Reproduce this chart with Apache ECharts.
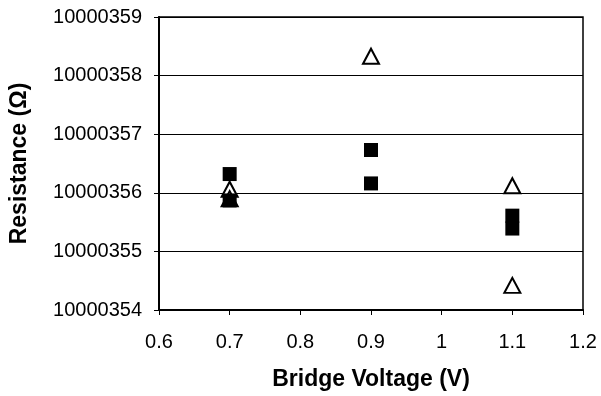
<!DOCTYPE html>
<html>
<head>
<meta charset="utf-8">
<script src="https://cdn.jsdelivr.net/npm/echarts@6/dist/echarts.min.js"></script>
<style>
  html, body { margin: 0; padding: 0; background: #fff; }
  #chart { width: 601px; height: 396px; }
</style>
</head>
<body>
<div id="chart"></div>
<script>
// filled squares
const squareX = [0.7, 0.7, 0.9, 0.9, 1.1, 1.1];
const squareY = [10000356.32, 10000355.87, 10000356.73, 10000356.16, 10000355.61, 10000355.39];
// open triangles
const triangleX = [0.7, 0.7, 0.9, 1.1, 1.1];
const triangleY = [10000356.06, 10000355.9, 10000358.33, 10000356.12, 10000354.42];

const chart = echarts.init(document.getElementById('chart'));

const font = 'Liberation Sans, Arial, sans-serif';

const option = {
  backgroundColor: '#fff',
  animation: false,
  grid: {
    left: 156, right: 18, top: 17, bottom: 85,
    show: true, borderColor: '#000', borderWidth: 1.5, backgroundColor: '#fff'
  },
  xAxis: {
    type: 'value',
    min: 0.6, max: 1.2, interval: 0.1,
    name: 'Bridge Voltage (V)',
    nameLocation: 'middle',
    nameGap: 58,
    nameTextStyle: { fontFamily: font, fontSize: 23, fontWeight: 'bold', color: '#000' },
    axisLine: { lineStyle: { color: '#000', width: 2 } },
    axisTick: { show: true, inside: false, length: 5, lineStyle: { color: '#000', width: 1 } },
    axisLabel: { fontFamily: font, fontSize: 20, color: '#000', margin: 22,
      formatter: v => String(Math.round(v * 10) / 10) },
    splitLine: { show: false }
  },
  yAxis: {
    type: 'value',
    min: 10000354, max: 10000359, interval: 1,
    name: 'Resistance (Ω)',
    nameLocation: 'middle',
    nameGap: 128,
    nameTextStyle: { fontFamily: font, fontSize: 23, fontWeight: 'bold', color: '#000' },
    axisLine: { lineStyle: { color: '#000', width: 2 } },
    axisTick: { show: true, inside: false, length: 5, lineStyle: { color: '#000', width: 1 } },
    axisLabel: { fontFamily: font, fontSize: 20, color: '#000', margin: 17,
      formatter: v => String(Math.round(v)) },
    splitLine: { show: true, lineStyle: { color: '#000', width: 1 } }
  },
  series: [
    {
      name: 'triangles',
      type: 'scatter',
      symbol: 'triangle',
      symbolSize: [16, 15],
      z: 2,
      itemStyle: { color: '#fff', borderColor: '#000', borderWidth: 2, opacity: 1 },
      data: triangleX.map((x, i) => [x, triangleY[i]])
    },
    {
      name: 'squares',
      type: 'scatter',
      symbol: 'rect',
      symbolSize: 14,
      z: 3,
      itemStyle: { color: '#000', opacity: 1 },
      data: squareX.map((x, i) => [x, squareY[i]])
    }
  ]
};

chart.setOption(option);
</script>
</body>
</html>
